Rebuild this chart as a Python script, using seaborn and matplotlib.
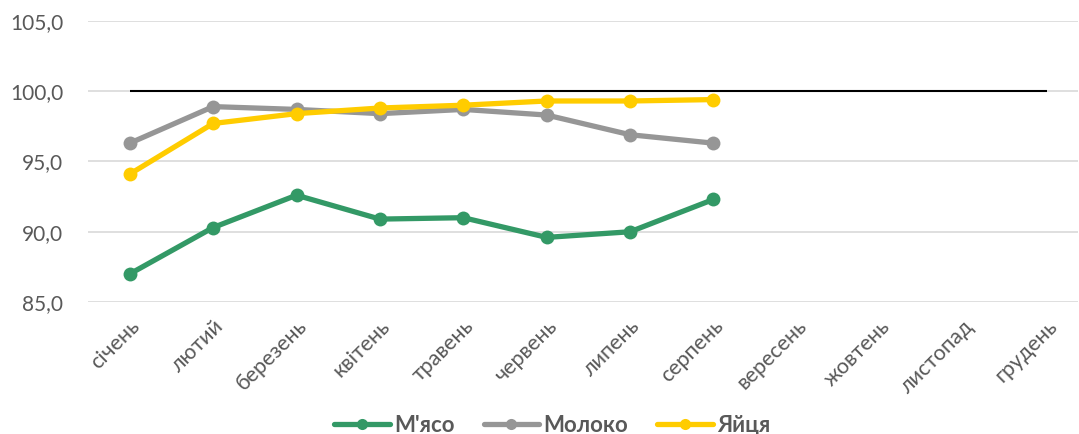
import pandas as pd
import matplotlib
matplotlib.use("Agg")
import matplotlib.pyplot as plt
import seaborn as sns

months = ["січень", "лютий", "березень", "квітень", "травень", "червень",
          "липень", "серпень", "вересень", "жовтень", "листопад", "грудень"]
meat = [87.0, 90.3, 92.6, 90.9, 91.0, 89.6, 90.0, 92.3]
milk = [96.3, 98.9, 98.7, 98.4, 98.7, 98.3, 96.9, 96.3]
eggs = [94.1, 97.7, 98.4, 98.8, 99.0, 99.3, 99.3, 99.4]
series_names = ["М'ясо", "Молоко", "Яйця"]
colors = ["#339966", "#969696", "#FFCC00"]
base_level = 100.0

rows = []
for name, vals in zip(series_names, [meat, milk, eggs]):
    for i, v in enumerate(vals):
        rows.append({"month": i, "value": v, "series": name})
df = pd.DataFrame(rows)

sns.set_style("white")
plt.rcParams["font.family"] = ["Lato", "DejaVu Sans"]

fig = plt.figure(figsize=(10.79, 4.34), dpi=100)
ax = fig.add_axes([0.0816, 0.304, 0.9174, 0.648])

ax.hlines(base_level, 0, len(months) - 1, color="black", linewidth=1.5, zorder=1)

sns.lineplot(data=df, x="month", y="value", hue="series", hue_order=series_names,
             palette=colors, marker="o", markersize=10, linewidth=3.8,
             markeredgewidth=0, ax=ax, zorder=3)

ax.set_ylim(85, 105)
ax.set_yticks([85, 90, 95, 100, 105])
ax.set_yticklabels([f"{v:.1f}".replace(".", ",") for v in [85, 90, 95, 100, 105]])
ax.set_xlim(-0.5, 11.37)
ax.set_xticks(range(len(months)))
ax.set_xticklabels(months, rotation=45, ha="right", va="top", rotation_mode="anchor")
ax.tick_params(axis="both", colors="#595959", length=0)
ax.tick_params(axis="x", pad=10, labelsize=15.5)
ax.tick_params(axis="y", pad=18, labelsize=15)
ax.grid(axis="y", color="#D9D9D9", linewidth=1.2)
ax.set_axisbelow(True)
for s in ax.spines.values():
    s.set_visible(False)
ax.set_xlabel("")
ax.set_ylabel("")

handles, labels = ax.get_legend_handles_labels()
for h in handles:
    h.set_markersize(8)
ax.legend_.remove()
leg = fig.legend(handles, labels, loc="lower center", bbox_to_anchor=(0.512, -0.05),
                 ncol=3, frameon=False, handlelength=2.5, columnspacing=1.3,
                 handletextpad=0.2, prop={"size": 16, "weight": "bold"})
for t in leg.get_texts():
    t.set_color("#595959")

fig.savefig("out.png", dpi=100)
